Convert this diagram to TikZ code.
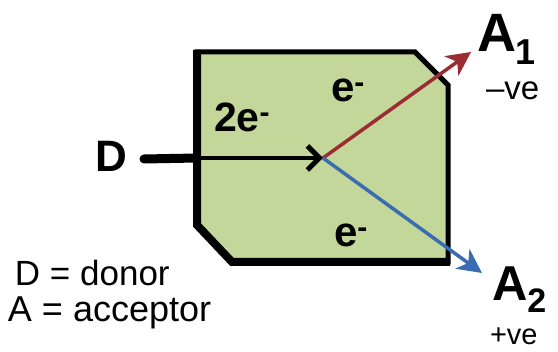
\documentclass[tikz,border=0pt]{standalone}
\usepackage{fontspec}
\setmainfont{Liberation Sans}
\usetikzlibrary{arrows.meta}
\definecolor{boxgreen}{HTML}{C4D79B}
\definecolor{arrred}{HTML}{9B2C31}
\definecolor{arrblue}{HTML}{3A6CB2}
\newcommand{\fsz}[1]{\fontsize{#1}{#1}\selectfont}
\tikzset{
  lbl/.style={inner sep=0pt, outer sep=0pt, anchor=base west},
  boxline/.style={draw=black, line width=5, line join=miter, fill=boxgreen},
  redarrow/.style={draw=arrred, line width=3.5, -{Stealth[length=24, width=24, inset=7]}},
  bluearrow/.style={draw=arrblue, line width=3.5, -{Stealth[length=24, width=24, inset=7]}},
  blackarrow/.style={draw=black, line width=3.5, -{Straight Barb[length=12, width=24, line width=5]}}
}
\begin{document}
\begin{tikzpicture}[x=1pt, y=-1pt]
\useasboundingbox (0,0) rectangle (558,352);
% box
\path[boxline] (197,52) -- (415,52) -- (448,85) -- (448,262) -- (232,262) -- (197,225) -- cycle;
\draw[line width=8, line join=miter, line cap=butt] (197,50) -- (197,225) -- (232,262) -- (450,262);
% named points
\coordinate (c) at (323,158);
\coordinate (edge) at (197,158);
\coordinate (t1) at (471,52);
\coordinate (t2) at (482,273);
% texts
\node[lbl] (D) at (95,172) {\fsz{44}\bfseries D};
\coordinate (dstart) at (144,159);
\node[lbl] (two) at (214,132) {\fsz{41}\bfseries 2e\textsuperscript{\fsz{30}-}};
\node[lbl] (eup) at (331,102) {\fsz{42}\bfseries e\textsuperscript{\fsz{30}-}};
\node[lbl] (edn) at (334,247) {\fsz{42}\bfseries e\textsuperscript{\fsz{30}-}};
\node[lbl] (A1) at (477,52) {\fsz{54}\bfseries A\fsz{36}\raisebox{-0.35em}{1}};
\node[lbl] (m1) at (486,100) {\fsz{33}–ve};
\node[lbl] (A2) at (492,301) {\fsz{49}\bfseries A\fsz{34}\raisebox{-0.35em}{2}};
\node[lbl] (p2) at (490,345) {\fsz{29}+ve};
\node[lbl] (leg1) at (15,286) {\fsz{35}D = donor};
\node[lbl] (leg2) at (8,322) {\fsz{36}A = acceptor};
% connectors
\draw[line width=9, line cap=round] (dstart) -- (edge);
\draw[blackarrow] (edge) -- (c);
\draw[redarrow] (c) -- (t1);
\draw[bluearrow] (c) -- (t2);
\end{tikzpicture}
\end{document}
